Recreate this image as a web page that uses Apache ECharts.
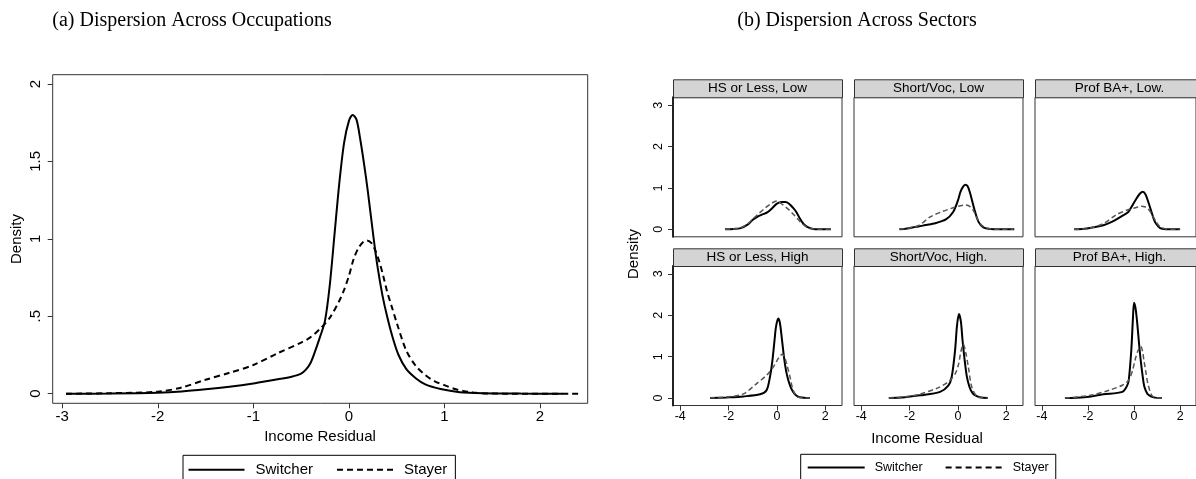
<!DOCTYPE html>
<html>
<head>
<meta charset="utf-8">
<script src="https://cdn.jsdelivr.net/npm/echarts@6/dist/echarts.min.js"></script>
<style>
  html, body { margin: 0; padding: 0; background: #fff; }
  #chart { width: 1196px; height: 479px; }
</style>
</head>
<body>
<div id="chart"></div>
<script>
// (a) occupations: kernel densities
const occSwitcherX = [-2.96, -2.5, -2.0, -1.75, -1.5, -1.25, -1.0, -0.85, -0.7, -0.6, -0.5, -0.45, -0.4, -0.35, -0.3, -0.25, -0.2, -0.15, -0.1, -0.05, 0.0, 0.04, 0.08, 0.12, 0.16, 0.2, 0.26, 0.3, 0.35, 0.4, 0.46, 0.52, 0.6, 0.7, 0.8, 0.96, 1.16, 1.4, 1.8, 2.24];
const occSwitcherY = [0, 0.001, 0.006, 0.014, 0.028, 0.045, 0.066, 0.082, 0.098, 0.11, 0.13, 0.155, 0.2, 0.28, 0.37, 0.47, 0.7, 1.03, 1.36, 1.62, 1.76, 1.80, 1.77, 1.64, 1.48, 1.30, 1.0, 0.82, 0.64, 0.5, 0.36, 0.25, 0.16, 0.1, 0.06, 0.03, 0.01, 0.003, 0.0005, 0];
const occStayerX = [-2.96, -2.5, -2.0, -1.75, -1.5, -1.25, -1.0, -0.75, -0.5, -0.4, -0.3, -0.2, -0.1, -0.05, 0.0, 0.05, 0.1, 0.15, 0.19, 0.24, 0.28, 0.32, 0.36, 0.4, 0.45, 0.5, 0.6, 0.7, 0.8, 0.9, 1.0, 1.1, 1.2, 1.3, 1.45, 1.8, 2.4];
const occStayerY = [0, 0.003, 0.013, 0.04, 0.09, 0.135, 0.185, 0.26, 0.33, 0.365, 0.42, 0.49, 0.6, 0.67, 0.76, 0.87, 0.94, 0.98, 0.99, 0.97, 0.92, 0.85, 0.76, 0.66, 0.56, 0.46, 0.28, 0.18, 0.12, 0.08, 0.055, 0.032, 0.017, 0.008, 0.002, 0, 0];

// (b) sectors: six panels
const panelTitles = ['HS or Less, Low', 'Short/Voc, Low', 'Prof BA+, Low.', 'HS or Less, High', 'Short/Voc, High.', 'Prof BA+, High.'];

const hsLowSwitcherX = [-2.15, -1.8, -1.5, -1.2, -1.0, -0.8, -0.6, -0.4, -0.2, 0, 0.2, 0.35, 0.5, 0.65, 0.8, 0.95, 1.1, 1.25, 1.5, 1.8, 2.23];
const hsLowSwitcherY = [0, 0.01, 0.03, 0.12, 0.23, 0.31, 0.36, 0.41, 0.51, 0.62, 0.66, 0.66, 0.62, 0.53, 0.42, 0.26, 0.13, 0.06, 0.01, 0.002, 0];
const hsLowStayerX = [-2.15, -1.8, -1.5, -1.2, -1.0, -0.75, -0.5, -0.25, 0, 0.25, 0.5, 0.75, 1.0, 1.25, 1.5, 1.8, 2.23];
const hsLowStayerY = [0, 0.01, 0.04, 0.14, 0.25, 0.38, 0.51, 0.62, 0.685, 0.59, 0.47, 0.32, 0.16, 0.05, 0.01, 0.002, 0];

const vocLowSwitcherX = [-2.42, -2.1, -1.75, -1.45, -1.0, -0.5, -0.2, 0, 0.1, 0.2, 0.3, 0.4, 0.5, 0.6, 0.7, 0.85, 1.05, 1.35, 1.8, 2.33];
const vocLowSwitcherY = [0, 0.02, 0.06, 0.09, 0.14, 0.24, 0.42, 0.7, 0.9, 1.02, 1.08, 1.04, 0.88, 0.66, 0.44, 0.18, 0.05, 0.01, 0.002, 0];
const vocLowStayerX = [-2.42, -2.0, -1.6, -1.15, -0.65, -0.2, 0.1, 0.3, 0.5, 0.65, 0.8, 1.0, 1.3, 1.8, 2.3];
const vocLowStayerY = [0, 0.03, 0.1, 0.3, 0.43, 0.52, 0.57, 0.59, 0.55, 0.44, 0.26, 0.09, 0.015, 0.002, 0];

const baLowSwitcherX = [-2.6, -2.15, -1.75, -1.33, -0.9, -0.5, -0.25, -0.1, 0.1, 0.25, 0.38, 0.5, 0.62, 0.73, 0.85, 0.95, 1.13, 1.4, 2.0];
const baLowSwitcherY = [0, 0.015, 0.05, 0.1, 0.2, 0.33, 0.42, 0.55, 0.74, 0.86, 0.91, 0.84, 0.66, 0.47, 0.26, 0.14, 0.03, 0.005, 0];
const baLowStayerX = [-2.6, -2.0, -1.33, -0.78, -0.23, 0.1, 0.32, 0.5, 0.59, 0.75, 0.87, 1.0, 1.14, 1.4, 2.0];
const baLowStayerY = [0, 0.02, 0.14, 0.35, 0.48, 0.53, 0.56, 0.54, 0.51, 0.39, 0.27, 0.15, 0.06, 0.01, 0];

const hsHighSwitcherX = [-2.77, -2.08, -1.39, -0.7, -0.43, -0.29, -0.2, -0.1, -0.04, 0.05, 0.12, 0.2, 0.29, 0.38, 0.47, 0.57, 0.67, 0.8, 0.95, 1.36];
const hsHighSwitcherY = [0, 0.016, 0.04, 0.09, 0.19, 0.51, 0.85, 1.4, 1.72, 1.92, 1.82, 1.45, 0.99, 0.65, 0.43, 0.26, 0.15, 0.06, 0.02, 0];
const hsHighStayerX = [-2.77, -2.0, -1.39, -0.84, -0.43, -0.15, 0.05, 0.15, 0.23, 0.32, 0.4, 0.54, 0.67, 0.88, 1.36];
const hsHighStayerY = [0, 0.03, 0.1, 0.35, 0.55, 0.75, 0.95, 1.03, 1.06, 0.98, 0.83, 0.51, 0.19, 0.02, 0];

const vocHighSwitcherX = [-2.86, -2.2, -1.57, -0.74, -0.4, -0.26, -0.12, -0.04, 0.04, 0.12, 0.19, 0.28, 0.37, 0.47, 0.57, 0.7, 0.91, 1.23];
const vocHighSwitcherY = [0, 0.02, 0.065, 0.15, 0.3, 0.51, 1.15, 1.75, 2.03, 1.85, 1.39, 0.9, 0.51, 0.28, 0.15, 0.07, 0.02, 0];
const vocHighStayerX = [-2.86, -2.2, -1.6, -0.74, -0.33, -0.1, 0.03, 0.12, 0.22, 0.32, 0.43, 0.57, 0.78, 1.0, 1.23];
const vocHighStayerY = [0, 0.03, 0.09, 0.27, 0.43, 0.6, 0.83, 1.12, 1.3, 1.1, 0.75, 0.27, 0.04, 0.005, 0];

const baHighSwitcherX = [-3.0, -2.16, -1.33, -0.51, -0.3, -0.23, -0.12, -0.05, 0.0, 0.07, 0.14, 0.22, 0.29, 0.37, 0.45, 0.58, 0.73, 0.9, 1.21];
const baHighSwitcherY = [0, 0.02, 0.09, 0.15, 0.3, 0.43, 1.15, 1.9, 2.3, 2.15, 1.8, 1.3, 0.91, 0.55, 0.27, 0.1, 0.04, 0.01, 0];
const baHighStayerX = [-3.0, -1.9, -1.07, -0.51, -0.23, -0.05, 0.04, 0.14, 0.21, 0.29, 0.36, 0.43, 0.52, 0.6, 0.77, 0.95, 1.21];
const baHighStayerY = [0, 0.065, 0.19, 0.31, 0.43, 0.7, 0.91, 1.1, 1.19, 1.25, 1.15, 0.91, 0.6, 0.35, 0.065, 0.01, 0];

const occTicksX = [-3, -2, -1, 0, 1, 2];
const occTicksY = [0, 0.5, 1, 1.5, 2];
const occTickLabelsY = ['0', '.5', '1', '1.5', '2'];
const secTicksX = [-4, -2, 0, 2];
const secTicksY = [0, 1, 2, 3];

const panelSwitcher = [
  [hsLowSwitcherX, hsLowSwitcherY], [vocLowSwitcherX, vocLowSwitcherY], [baLowSwitcherX, baLowSwitcherY],
  [hsHighSwitcherX, hsHighSwitcherY], [vocHighSwitcherX, vocHighSwitcherY], [baHighSwitcherX, baHighSwitcherY]
];
const panelStayer = [
  [hsLowStayerX, hsLowStayerY], [vocLowStayerX, vocLowStayerY], [baLowStayerX, baLowStayerY],
  [hsHighStayerX, hsHighStayerY], [vocHighStayerX, vocHighStayerY], [baHighStayerX, baHighStayerY]
];

function pairs(xs, ys) {
  return xs.map((x, i) => [x, ys[i]]);
}

const font = 'Liberation Sans, Arial, sans-serif';
const frameColor = '#333';

const grids = [{ left: 52.7, top: 74.7, width: 535, height: 328.6 }];
const xAxes = [{
  type: 'value', gridIndex: 0, min: -3.1, max: 2.5,
  splitLine: { show: false }, axisLine: { show: false, onZero: false },
  axisTick: { customValues: occTicksX, length: 5, lineStyle: { color: frameColor } },
  axisLabel: { customValues: occTicksX, margin: 6, fontSize: 15, color: '#000', fontFamily: font }
}];
const yAxes = [{
  type: 'value', gridIndex: 0, min: -0.062, max: 2.06,
  splitLine: { show: false }, axisLine: { show: false, onZero: false },
  axisTick: { customValues: occTicksY, length: 5, lineStyle: { color: frameColor } },
  axisLabel: {
    customValues: occTicksY, rotate: 90, margin: 9, fontSize: 15, color: '#000', fontFamily: font,
    formatter: v => occTickLabelsY[occTicksY.indexOf(v)]
  }
}];
const series = [
  {
    name: 'Switcher', type: 'line', xAxisIndex: 0, yAxisIndex: 0, symbol: 'none', smooth: 0.3,
    data: pairs(occSwitcherX, occSwitcherY),
    lineStyle: { color: '#000', width: 2 }, itemStyle: { color: '#000' }
  },
  {
    name: 'Stayer', type: 'line', xAxisIndex: 0, yAxisIndex: 0, symbol: 'none', smooth: 0.3,
    data: pairs(occStayerX, occStayerY),
    lineStyle: { color: '#000', width: 2, type: [6, 4] }, itemStyle: { color: '#000' }
  }
];

const colLeft = [673, 854, 1035];
const rowTop = [97.3, 266];
const stripTop = [79.3, 248.3];
const graphics = [];

panelTitles.forEach((title, p) => {
  const r = Math.floor(p / 3), c = p % 3, g = p + 1;
  grids.push({ left: colLeft[c], top: rowTop[r], width: 169, height: 139.5 });
  xAxes.push({
    type: 'value', gridIndex: g, min: -4.3, max: 2.69,
    splitLine: { show: false }, axisLine: { show: false, onZero: false },
    axisTick: { show: r === 1, customValues: secTicksX, length: 5, lineStyle: { color: frameColor } },
    axisLabel: { show: r === 1, customValues: secTicksX, margin: 5, fontSize: 12.5, color: '#000', fontFamily: font }
  });
  yAxes.push({
    type: 'value', gridIndex: g, min: -0.18, max: 3.19,
    splitLine: { show: false },
    axisLine: { show: c === 0, onZero: false, lineStyle: { color: '#222', width: 2 } },
    axisTick: { show: c === 0, customValues: secTicksY, length: 5, lineStyle: { color: frameColor } },
    axisLabel: { show: c === 0, customValues: secTicksY, rotate: 90, margin: 8, fontSize: 12.5, color: '#000', fontFamily: font }
  });
  series.push({
    name: 'Switcher', type: 'line', xAxisIndex: g, yAxisIndex: g, symbol: 'none', smooth: 0.3,
    data: pairs(panelSwitcher[p][0], panelSwitcher[p][1]),
    lineStyle: { color: '#000', width: 2 }, itemStyle: { color: '#000' }
  });
  series.push({
    name: 'Stayer', type: 'line', xAxisIndex: g, yAxisIndex: g, symbol: 'none', smooth: 0.3,
    data: pairs(panelStayer[p][0], panelStayer[p][1]),
    lineStyle: { color: '#555', width: 1.5, type: [5, 3] }, itemStyle: { color: '#555' }
  });
  // strip header above each panel
  graphics.push({
    type: 'rect', left: colLeft[c], top: stripTop[r],
    shape: { width: 169, height: rowTop[r] - stripTop[r] },
    style: { fill: '#d4d4d4', stroke: frameColor, lineWidth: 1 }
  });
  graphics.push({
    type: 'text', x: colLeft[c] + 84.5, y: stripTop[r] + 8.5,
    style: { text: title, fill: '#000', font: '13.5px ' + font, align: 'center', verticalAlign: 'middle' }
  });
});

grids.forEach(gr => { gr.show = true; gr.borderColor = frameColor; gr.borderWidth = 1; gr.backgroundColor = '#fff'; });

graphics.push(
  { type: 'text', x: 17, y: 239, rotation: Math.PI / 2,
    style: { text: 'Density', fill: '#000', font: '15px ' + font, align: 'center', verticalAlign: 'middle' } },
  { type: 'text', x: 320, y: 436.5,
    style: { text: 'Income Residual', fill: '#000', font: '15px ' + font, align: 'center', verticalAlign: 'middle' } },
  { type: 'text', x: 634, y: 254, rotation: Math.PI / 2,
    style: { text: 'Density', fill: '#000', font: '15px ' + font, align: 'center', verticalAlign: 'middle' } },
  { type: 'text', x: 927, y: 439,
    style: { text: 'Income Residual', fill: '#000', font: '15px ' + font, align: 'center', verticalAlign: 'middle' } },
  { type: 'text', x: 192, y: 21,
    style: { text: '(a) Dispersion Across Occupations', fill: '#000', font: '20px Liberation Serif, serif', align: 'center', verticalAlign: 'middle' } },
  { type: 'text', x: 857, y: 21,
    style: { text: '(b) Dispersion Across Sectors', fill: '#000', font: '20px Liberation Serif, serif', align: 'center', verticalAlign: 'middle' } }
);

const chart = echarts.init(document.getElementById('chart'));
chart.setOption({
  animation: false,
  backgroundColor: '#fff',
  grid: grids,
  xAxis: xAxes,
  yAxis: yAxes,
  series: series,
  legend: [
    {
      data: ['Switcher', 'Stayer'], left: 183, top: 455.3, orient: 'horizontal',
      itemWidth: 56, itemHeight: 14, itemGap: 23, padding: [7, 8, 12, 4.5],
      borderColor: '#000', borderWidth: 1, selectedMode: false,
      itemStyle: { opacity: 0 },
      textStyle: { fontSize: 15, color: '#000', fontFamily: font, padding: [0, 0, 0, 6] }
    },
    {
      data: ['Switcher', 'Stayer'], left: 800.7, top: 454.3, orient: 'horizontal',
      itemWidth: 57, itemHeight: 14, itemGap: 22, padding: [6.7, 7, 12, 6],
      borderColor: '#000', borderWidth: 1, selectedMode: false,
      itemStyle: { opacity: 0 },
      textStyle: { fontSize: 12.5, color: '#000', fontFamily: font, padding: [0, 0, 0, 5] }
    }
  ],
  graphic: graphics
});
</script>
</body>
</html>
